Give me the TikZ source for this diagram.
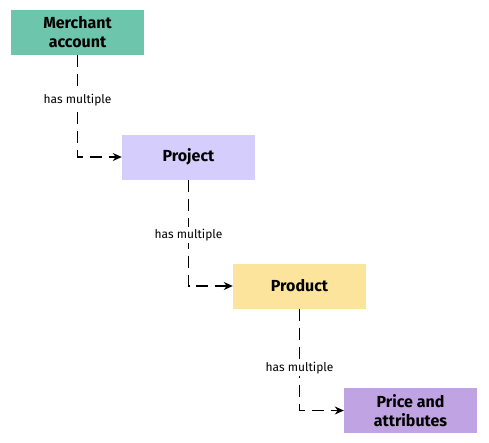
\documentclass[tikz,border=0pt]{standalone}
\usepackage{fontspec}
\setmainfont{Fira Sans}
\usetikzlibrary{arrows.meta}

\definecolor{merchantgreen}{HTML}{6DC5AC}
\definecolor{projectlilac}{HTML}{D5CDFB}
\definecolor{productyellow}{HTML}{FCE49D}
\definecolor{pricepurple}{HTML}{BFA3E2}

\tikzset{
    entity/.style={minimum width=133pt, minimum height=45pt, inner sep=2pt,
        align=center, font=\fontsize{16}{19}\selectfont\bfseries},
    link/.style={line width=1.4pt, dash pattern=on 12pt off 7pt,
        -{Stealth[length=9pt,width=8pt]}},
    relation/.style={fill=white, inner sep=2pt, font=\fontsize{12}{14}\selectfont}
}

\begin{document}
\begin{tikzpicture}[x=1pt,y=-1pt]
    \useasboundingbox (0,0) rectangle (489,442);

    \node[entity, fill=merchantgreen] (merchant) at (77.5,32.5) {Merchant\\account};
    \node[entity, fill=projectlilac] (project) at (188.5,157) {Project};
    \node[entity, fill=productyellow] (product) at (299.5,286) {Product};
    \node[entity, fill=pricepurple] (price) at (410.5,410.5) {Price and\\attributes};

    \draw[link] (merchant.south) |- (project.west)
        node[relation, pos=0.22] {has multiple};
    \draw[link] (project.south) |- (product.west)
        node[relation, pos=0.26] {has multiple};
    \draw[link] (product.south) |- (price.west)
        node[relation, pos=0.29] {has multiple};
\end{tikzpicture}
\end{document}
